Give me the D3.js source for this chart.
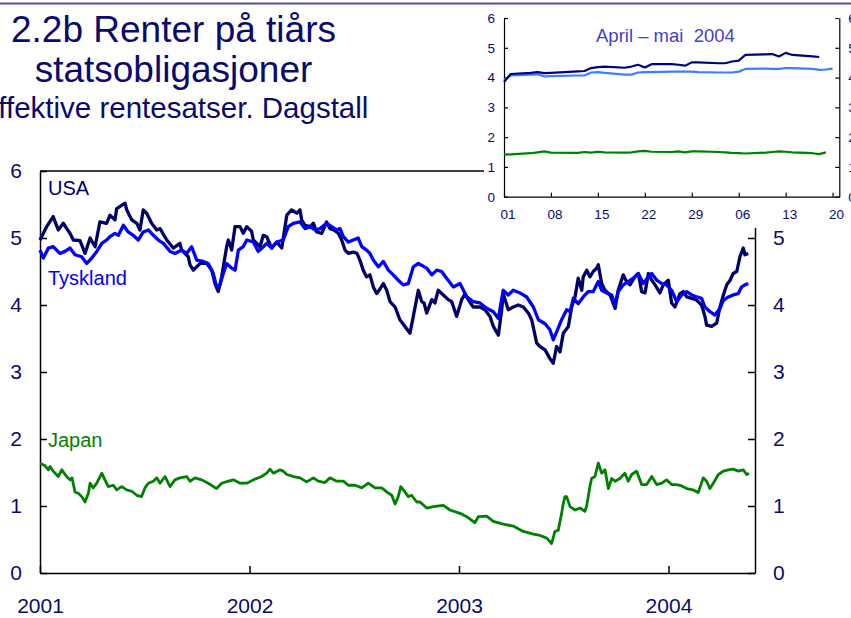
<!DOCTYPE html>
<html>
<head>
<meta charset="utf-8">
<script src="https://cdn.jsdelivr.net/npm/d3@7"></script>
<style>
  body { margin: 0; background: #fff; }
  svg { display: block; font-family: "Liberation Sans", Arial, sans-serif; }
</style>
</head>
<body>
<svg id="chart" width="851" height="618"></svg>
<script>
// main chart: time in decimal years, values in percent
const usaT = [2001.000, 2001.032, 2001.063, 2001.087, 2001.111, 2001.143, 2001.159, 2001.191, 2001.215, 2001.239,
  2001.263, 2001.286, 2001.318, 2001.334, 2001.358, 2001.366, 2001.406, 2001.414, 2001.438, 2001.462,
  2001.477, 2001.493, 2001.509, 2001.533, 2001.557, 2001.573, 2001.605, 2001.636, 2001.668, 2001.676,
  2001.708, 2001.716, 2001.732, 2001.764, 2001.796, 2001.820, 2001.835, 2001.851, 2001.867, 2001.891,
  2001.899, 2001.915, 2001.931, 2001.955, 2001.970, 2001.987, 2002.010, 2002.018, 2002.050, 2002.066,
  2002.082, 2002.106, 2002.130, 2002.154, 2002.178, 2002.201, 2002.225, 2002.241, 2002.249, 2002.265,
  2002.289, 2002.305, 2002.321, 2002.345, 2002.368, 2002.384, 2002.403, 2002.424, 2002.440, 2002.456,
  2002.472, 2002.495, 2002.513, 2002.527, 2002.543, 2002.559, 2002.575, 2002.591, 2002.607, 2002.623,
  2002.639, 2002.655, 2002.671, 2002.695, 2002.718, 2002.742, 2002.766, 2002.782, 2002.806, 2002.822,
  2002.833, 2002.846, 2002.870, 2002.885, 2002.901, 2002.925, 2002.949, 2002.965, 2002.989, 2003.013,
  2003.029, 2003.044, 2003.068, 2003.100, 2003.124, 2003.148, 2003.164, 2003.188, 2003.204, 2003.211,
  2003.235, 2003.259, 2003.283, 2003.307, 2003.331, 2003.347, 2003.371, 2003.387, 2003.411, 2003.434,
  2003.450, 2003.466, 2003.482, 2003.498, 2003.522, 2003.538, 2003.554, 2003.569, 2003.586, 2003.593,
  2003.610, 2003.625, 2003.641, 2003.657, 2003.665, 2003.681, 2003.697, 2003.721, 2003.745, 2003.760,
  2003.784, 2003.800, 2003.816, 2003.840, 2003.856, 2003.872, 2003.888, 2003.904, 2003.920, 2003.936,
  2003.959, 2003.975, 2003.999, 2004.015, 2004.031, 2004.055, 2004.071, 2004.087, 2004.111, 2004.135,
  2004.158, 2004.174, 2004.182, 2004.206, 2004.230, 2004.246, 2004.262, 2004.278, 2004.294, 2004.309,
  2004.326, 2004.341, 2004.357, 2004.365, 2004.381];
const usaV = [4.97, 5.17, 5.32, 5.12, 5.22, 5.07, 4.97, 4.96, 4.77, 5.00,
  4.87, 5.24, 5.22, 5.34, 5.27, 5.44, 5.52, 5.42, 5.27, 5.22,
  5.12, 5.42, 5.37, 5.22, 5.12, 5.14, 4.97, 4.85, 4.92, 4.82,
  4.72, 4.60, 4.52, 4.62, 4.62, 4.52, 4.32, 4.20, 4.42, 4.87,
  4.97, 4.82, 5.17, 5.17, 5.07, 5.17, 5.10, 4.97, 4.87, 5.04,
  5.02, 4.85, 4.94, 4.85, 5.34, 5.42, 5.37, 5.42, 5.27, 5.19,
  5.17, 5.22, 5.09, 5.07, 5.24, 5.14, 5.12, 5.07, 4.97, 4.82,
  4.77, 4.79, 4.77, 4.67, 4.52, 4.42, 4.45, 4.27, 4.17, 4.24,
  4.32, 4.22, 4.05, 3.97, 3.78, 3.68, 3.58, 3.83, 4.22, 4.05,
  4.03, 3.88, 4.08, 4.03, 4.22, 4.15, 4.08, 4.05, 3.83, 4.08,
  4.17, 4.08, 3.97, 3.97, 3.93, 3.83, 3.68, 3.55, 3.93, 4.17,
  3.93, 3.97, 4.00, 3.97, 3.88, 3.78, 3.43, 3.38, 3.33, 3.20,
  3.13, 3.38, 3.30, 3.58, 3.68, 3.97, 4.12, 4.40, 4.22, 4.42,
  4.52, 4.42, 4.50, 4.55, 4.60, 4.32, 4.22, 4.15, 3.95, 4.22,
  4.45, 4.35, 4.30, 4.42, 4.47, 4.20, 4.18, 4.47, 4.37, 4.30,
  4.18, 4.30, 4.37, 4.03, 3.97, 4.17, 4.20, 4.12, 4.10, 4.07,
  4.00, 3.83, 3.70, 3.68, 3.73, 3.97, 4.15, 4.30, 4.37, 4.47,
  4.50, 4.72, 4.85, 4.75, 4.77];

const tysT = [2001.000, 2001.016, 2001.040, 2001.063, 2001.095, 2001.119, 2001.143, 2001.167, 2001.199, 2001.223,
  2001.247, 2001.271, 2001.295, 2001.318, 2001.334, 2001.358, 2001.374, 2001.398, 2001.421, 2001.445,
  2001.469, 2001.493, 2001.517, 2001.541, 2001.565, 2001.589, 2001.621, 2001.644, 2001.676, 2001.700,
  2001.724, 2001.748, 2001.779, 2001.803, 2001.827, 2001.843, 2001.859, 2001.875, 2001.891, 2001.915,
  2001.931, 2001.947, 2001.970, 2001.987, 2002.018, 2002.042, 2002.066, 2002.082, 2002.106, 2002.130,
  2002.161, 2002.185, 2002.209, 2002.241, 2002.265, 2002.289, 2002.313, 2002.337, 2002.368, 2002.392,
  2002.416, 2002.432, 2002.448, 2002.472, 2002.495, 2002.519, 2002.536, 2002.559, 2002.575, 2002.591,
  2002.615, 2002.639, 2002.663, 2002.686, 2002.710, 2002.734, 2002.758, 2002.782, 2002.806, 2002.846,
  2002.870, 2002.894, 2002.917, 2002.941, 2002.973, 2003.005, 2003.037, 2003.068, 2003.100, 2003.132,
  2003.164, 2003.188, 2003.211, 2003.235, 2003.259, 2003.291, 2003.323, 2003.355, 2003.379, 2003.411,
  2003.434, 2003.450, 2003.466, 2003.490, 2003.514, 2003.530, 2003.546, 2003.569, 2003.593, 2003.617,
  2003.641, 2003.665, 2003.681, 2003.705, 2003.729, 2003.745, 2003.760, 2003.784, 2003.808, 2003.832,
  2003.856, 2003.880, 2003.904, 2003.920, 2003.944, 2003.968, 2003.991, 2004.015, 2004.039, 2004.063,
  2004.087, 2004.111, 2004.135, 2004.158, 2004.174, 2004.198, 2004.222, 2004.246, 2004.262, 2004.286,
  2004.309, 2004.333, 2004.349, 2004.365, 2004.381];
const tysV = [4.82, 4.70, 4.85, 4.87, 4.77, 4.80, 4.85, 4.75, 4.72, 4.62,
  4.70, 4.80, 4.92, 4.97, 5.02, 5.07, 5.04, 5.19, 5.09, 5.04,
  4.97, 5.09, 5.12, 5.04, 4.97, 4.92, 4.80, 4.77, 4.82, 4.77,
  4.87, 4.67, 4.65, 4.62, 4.47, 4.27, 4.30, 4.47, 4.62, 4.55,
  4.52, 4.82, 4.87, 4.97, 4.94, 4.80, 4.87, 4.92, 4.85, 4.94,
  4.97, 5.17, 5.22, 5.24, 5.14, 5.17, 5.12, 5.14, 5.22, 5.17,
  5.12, 5.14, 5.02, 4.94, 4.97, 5.00, 4.87, 4.82, 4.77, 4.67,
  4.57, 4.65, 4.52, 4.45, 4.37, 4.30, 4.32, 4.57, 4.62, 4.55,
  4.45, 4.52, 4.50, 4.40, 4.27, 4.32, 4.12, 4.05, 4.03, 3.95,
  3.90, 3.80, 4.22, 4.15, 4.22, 4.18, 4.12, 3.97, 3.78, 3.72,
  3.63, 3.48, 3.60, 3.78, 3.93, 3.90, 4.10, 4.02, 4.12, 4.20,
  4.20, 4.35, 4.22, 4.18, 4.15, 4.00, 4.20, 4.30, 4.35, 4.40,
  4.47, 4.32, 4.42, 4.47, 4.37, 4.32, 4.30, 4.22, 4.05, 4.15,
  4.20, 4.15, 4.12, 4.10, 3.97, 3.90, 3.85, 3.95, 4.07, 4.12,
  4.15, 4.17, 4.27, 4.30, 4.32];

const japT = [2001.000, 2001.024, 2001.040, 2001.048, 2001.063, 2001.087, 2001.104, 2001.127, 2001.143, 2001.153,
  2001.167, 2001.183, 2001.199, 2001.215, 2001.231, 2001.239, 2001.254, 2001.271, 2001.295, 2001.310,
  2001.326, 2001.350, 2001.366, 2001.390, 2001.414, 2001.438, 2001.462, 2001.485, 2001.501, 2001.517,
  2001.541, 2001.557, 2001.573, 2001.597, 2001.621, 2001.644, 2001.668, 2001.700, 2001.716, 2001.740,
  2001.772, 2001.803, 2001.843, 2001.867, 2001.899, 2001.923, 2001.955, 2001.987, 2002.018, 2002.058,
  2002.082, 2002.098, 2002.114, 2002.146, 2002.161, 2002.178, 2002.209, 2002.241, 2002.273, 2002.305,
  2002.328, 2002.360, 2002.384, 2002.416, 2002.448, 2002.472, 2002.504, 2002.536, 2002.567, 2002.599,
  2002.631, 2002.655, 2002.679, 2002.695, 2002.710, 2002.722, 2002.742, 2002.758, 2002.774, 2002.798,
  2002.814, 2002.846, 2002.877, 2002.925, 2002.957, 2003.005, 2003.037, 2003.076, 2003.092, 2003.132,
  2003.164, 2003.211, 2003.259, 2003.307, 2003.355, 2003.387, 2003.419, 2003.442, 2003.458, 2003.474,
  2003.490, 2003.498, 2003.506, 2003.514, 2003.530, 2003.554, 2003.578, 2003.601, 2003.610, 2003.625,
  2003.633, 2003.649, 2003.665, 2003.681, 2003.697, 2003.713, 2003.729, 2003.745, 2003.768, 2003.792,
  2003.808, 2003.824, 2003.848, 2003.872, 2003.896, 2003.920, 2003.944, 2003.968, 2003.991, 2004.015,
  2004.039, 2004.063, 2004.087, 2004.118, 2004.142, 2004.166, 2004.182, 2004.198, 2004.214, 2004.238,
  2004.262, 2004.286, 2004.309, 2004.333, 2004.357, 2004.373, 2004.384];
const japV = [1.64, 1.60, 1.54, 1.59, 1.52, 1.44, 1.54, 1.44, 1.39, 1.42,
  1.21, 1.19, 1.14, 1.06, 1.19, 1.34, 1.27, 1.34, 1.49, 1.39,
  1.29, 1.31, 1.24, 1.29, 1.24, 1.22, 1.16, 1.14, 1.27, 1.34,
  1.37, 1.42, 1.34, 1.44, 1.29, 1.39, 1.42, 1.44, 1.37, 1.42,
  1.39, 1.34, 1.26, 1.34, 1.37, 1.39, 1.34, 1.34, 1.39, 1.44,
  1.49, 1.55, 1.49, 1.54, 1.52, 1.47, 1.44, 1.42, 1.36, 1.42,
  1.37, 1.35, 1.42, 1.37, 1.37, 1.31, 1.31, 1.27, 1.34, 1.27,
  1.27, 1.21, 1.16, 1.03, 1.14, 1.29, 1.21, 1.14, 1.16, 1.06,
  1.06, 0.97, 0.99, 1.01, 0.94, 0.89, 0.84, 0.75, 0.84, 0.85,
  0.77, 0.73, 0.70, 0.62, 0.58, 0.56, 0.52, 0.44, 0.62, 0.64,
  0.89, 1.04, 1.14, 1.14, 0.99, 0.94, 0.97, 0.92, 1.01, 1.29,
  1.41, 1.44, 1.64, 1.49, 1.54, 1.26, 1.41, 1.37, 1.41, 1.49,
  1.37, 1.47, 1.52, 1.32, 1.32, 1.44, 1.32, 1.34, 1.39, 1.32,
  1.32, 1.30, 1.26, 1.24, 1.20, 1.42, 1.37, 1.26, 1.34, 1.47,
  1.52, 1.54, 1.55, 1.52, 1.54, 1.47, 1.49];

const yTicks = [0, 1, 2, 3, 4, 5, 6];
const yearTicks = [2001, 2002, 2003, 2004];

// inset: April - May 2004, daily
const insetDates = ["2004-04-01", "2004-04-02", "2004-04-05", "2004-04-06", "2004-04-07", "2004-04-08",
  "2004-04-12", "2004-04-13", "2004-04-14", "2004-04-15", "2004-04-16", "2004-04-19", "2004-04-20",
  "2004-04-21", "2004-04-22", "2004-04-23", "2004-04-26", "2004-04-27", "2004-04-28", "2004-04-29",
  "2004-04-30", "2004-05-03", "2004-05-04", "2004-05-05", "2004-05-06", "2004-05-07", "2004-05-10",
  "2004-05-11", "2004-05-12", "2004-05-13", "2004-05-14", "2004-05-17", "2004-05-18", "2004-05-19",
  "2004-05-20"];
const insetUsa = [3.85, 4.12, 4.16, 4.18, 4.15, 4.16, 4.21, 4.22, 4.32, 4.35, 4.37, 4.33, 4.37, 4.43,
  4.34, 4.45, 4.45, 4.43, 4.40, 4.51, 4.51, 4.48, 4.48, 4.54, 4.57, 4.76, 4.78, 4.79, 4.71, 4.83,
  4.76, 4.71, 4.69, null, null];
const insetTys = [3.92, 4.07, 4.10, 4.11, 4.04, 4.05, 4.07, 4.07, 4.17, 4.18, 4.16, 4.10, 4.10, 4.17,
  4.18, 4.18, 4.20, 4.20, 4.20, 4.20, 4.18, 4.17, 4.17, 4.17, 4.20, 4.29, 4.30, 4.29, 4.29, 4.32,
  4.32, 4.29, 4.26, 4.27, 4.30];
const insetJap = [1.41, 1.42, 1.46, 1.49, 1.52, 1.48, 1.47, 1.50, 1.48, 1.51, 1.49, 1.48, 1.49, 1.52,
  1.54, 1.51, 1.50, 1.52, 1.49, 1.52, 1.52, 1.50, 1.49, 1.47, 1.46, 1.45, 1.48, 1.50, 1.52, 1.51,
  1.49, 1.46, 1.43, 1.49, null];
const insetTicks = ["2004-04-01", "2004-04-08", "2004-04-15", "2004-04-22", "2004-04-29",
  "2004-05-06", "2004-05-13", "2004-05-20"];

const navy = "#0a0a6e";
const font = "Liberation Sans, Arial, sans-serif";
const svg = d3.select("#chart");

// ---------- main chart ----------
const x = d3.scaleLinear().domain([2001, 2004.413]).range([40, 755]);
const y = d3.scaleLinear().domain([0, 6]).range([573, 171]);

function styleAxis(g, size, w) {
  g.attr("font-family", font).attr("font-size", size);
  g.select(".domain").attr("stroke", "#000").attr("stroke-width", w);
  g.selectAll(".tick line").attr("stroke", "#000").attr("stroke-width", w);
  g.selectAll(".tick text").attr("fill", navy);
}

svg.append("line")
  .attr("x1", 40).attr("x2", 755)
  .attr("y1", 171).attr("y2", 171)
  .attr("stroke", "#000").attr("stroke-width", 1.5);

svg.append("g")
  .attr("transform", "translate(40,0)")
  .call(d3.axisLeft(y).tickValues(yTicks).tickFormat(d3.format("d"))
    .tickSizeInner(-7).tickSizeOuter(0).tickPadding(18))
  .call(g => styleAxis(g, 21, 1.5));

svg.append("g")
  .attr("transform", "translate(755,0)")
  .call(d3.axisRight(y).tickValues(yTicks).tickFormat(d3.format("d"))
    .tickSizeInner(-7).tickSizeOuter(0).tickPadding(18))
  .call(g => styleAxis(g, 21, 1.5));

svg.append("g")
  .attr("transform", "translate(0,573)")
  .call(d3.axisBottom(x).tickValues(yearTicks).tickFormat(d3.format("d"))
    .tickSizeInner(-7).tickSizeOuter(0).tickPadding(25))
  .call(g => styleAxis(g, 21, 1.5));

const line = d3.line().x(d => x(d[0])).y(d => y(d[1]));
const series = [
  { t: japT, v: japV, color: "#008000", width: 2.8 },
  { t: usaT, v: usaV, color: "#000066", width: 3.3 },
  { t: tysT, v: tysV, color: "#0000ff", width: 3.3 }
];
svg.selectAll(".series")
  .data(series)
  .enter()
  .append("path")
  .attr("class", "series")
  .attr("d", d => line(d3.zip(d.t, d.v)))
  .attr("fill", "none")
  .attr("stroke", d => d.color)
  .attr("stroke-width", d => d.width)
  .attr("stroke-linejoin", "round");

const labels = [
  { text: "USA", y: 195, color: "#000066" },
  { text: "Tyskland", y: 285, color: "#0000ff" },
  { text: "Japan", y: 447, color: "#008000" }
];
svg.selectAll(".label")
  .data(labels)
  .enter()
  .append("text")
  .attr("class", "label")
  .attr("x", 48)
  .attr("y", d => d.y)
  .attr("font-size", 20)
  .attr("fill", d => d.color)
  .text(d => d.text);

// ---------- inset ----------
svg.append("rect")
  .attr("x", 484).attr("y", 6)
  .attr("width", 367).attr("height", 222)
  .attr("fill", "#fff");

const parse = d3.timeParse("%Y-%m-%d");
const ix = d3.scaleTime().domain([parse("2004-04-01"), parse("2004-05-21")]).range([504, 839.3]);
const iy = d3.scaleLinear().domain([0, 6]).range([196.7, 18]);

svg.append("g")
  .attr("transform", "translate(504,0)")
  .call(d3.axisLeft(iy).tickValues(yTicks).tickFormat(d3.format("d"))
    .tickSizeInner(-4).tickSizeOuter(0).tickPadding(9))
  .call(g => styleAxis(g, 13.5, 1.2));

svg.append("g")
  .attr("transform", "translate(839.3,0)")
  .call(d3.axisRight(iy).tickValues(yTicks).tickFormat(d3.format("d"))
    .tickSizeInner(-4).tickSizeOuter(0).tickPadding(9))
  .call(g => styleAxis(g, 13.5, 1.2));

svg.append("g")
  .attr("transform", "translate(0,196.7)")
  .call(d3.axisBottom(ix).tickValues(insetTicks.map(parse)).tickFormat(d3.timeFormat("%d"))
    .tickSizeInner(-4).tickSizeOuter(0).tickPadding(13))
  .call(g => styleAxis(g, 13.5, 1.2))
  .call(g => g.selectAll(".tick text").attr("dx", 3.5));

const iline = d3.line()
  .defined(d => d[1] != null)
  .x(d => ix(parse(d[0])))
  .y(d => iy(d[1]));
const insetSeries = [
  { v: insetJap, color: "#008000" },
  { v: insetTys, color: "#3d7dff" },
  { v: insetUsa, color: "#000080" }
];
svg.selectAll(".iseries")
  .data(insetSeries)
  .enter()
  .append("path")
  .attr("class", "iseries")
  .attr("d", d => iline(d3.zip(insetDates, d.v)))
  .attr("fill", "none")
  .attr("stroke", d => d.color)
  .attr("stroke-width", 2.2)
  .attr("stroke-linejoin", "round");

svg.append("text")
  .attr("x", 596).attr("y", 42)
  .attr("font-size", 18.5)
  .attr("fill", "#3f3fcc")
  .style("white-space", "pre")
  .text("April \u2013 mai  2004");

// ---------- title ----------
svg.append("line")
  .attr("x1", 0).attr("x2", 851)
  .attr("y1", 3.5).attr("y2", 3.5)
  .attr("stroke", "#52529a").attr("stroke-width", 2);

const titles = [
  { text: "2.2b Renter på tiårs", y: 42, size: 37 },
  { text: "statsobligasjoner", y: 82, size: 37 },
  { text: "Effektive rentesatser. Dagstall", y: 118, size: 29.5 }
];
svg.selectAll(".title")
  .data(titles)
  .enter()
  .append("text")
  .attr("class", "title")
  .attr("x", 173.5)
  .attr("y", d => d.y)
  .attr("text-anchor", "middle")
  .attr("font-size", d => d.size)
  .attr("fill", navy)
  .text(d => d.text);
</script>
</body>
</html>
